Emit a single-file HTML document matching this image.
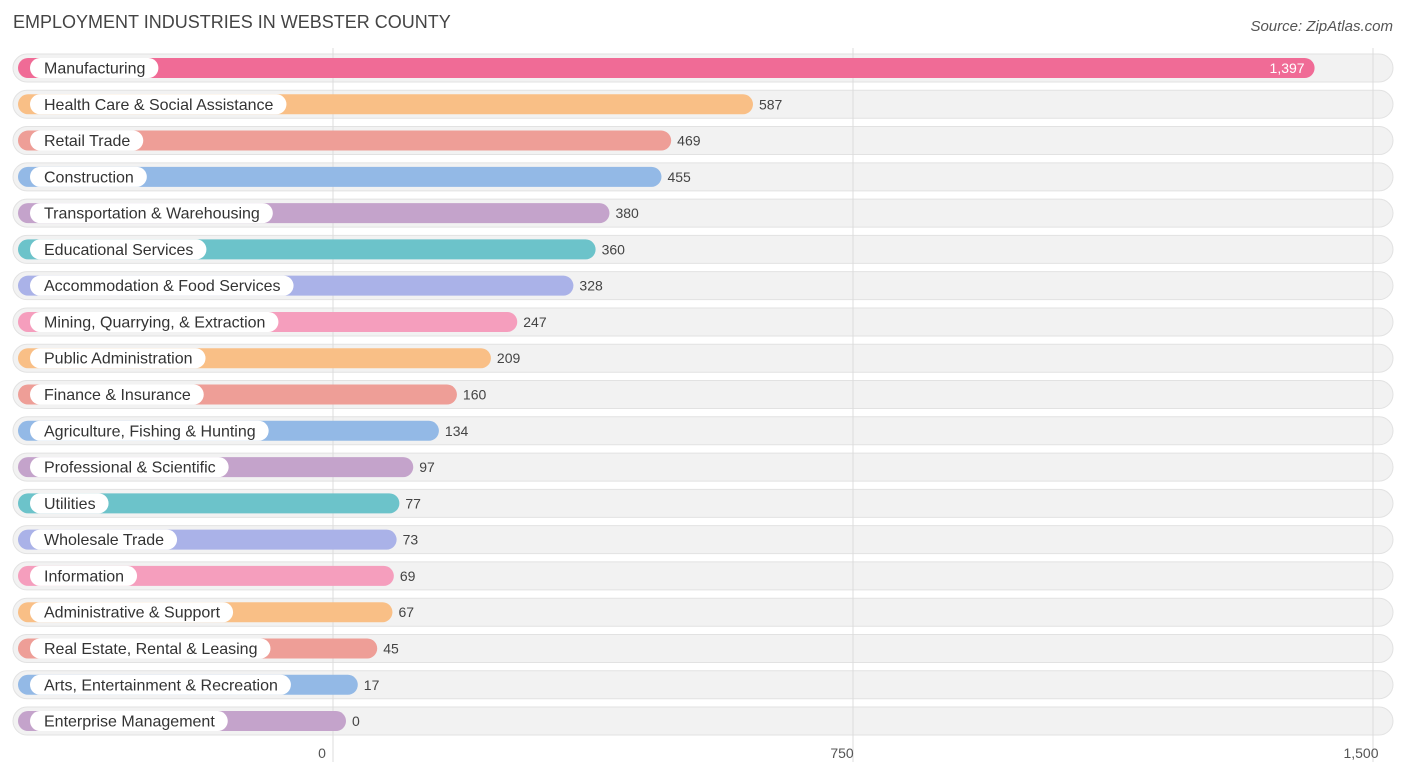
<!DOCTYPE html>
<html><head><meta charset="utf-8"><style>
body{margin:0;background:#fff;font-family:"Liberation Sans",sans-serif;}
svg{display:block}
</style></head><body>
<svg id="chart" width="1406" height="776" xmlns="http://www.w3.org/2000/svg">
<text x="13" y="28" font-size="18" fill="#444">EMPLOYMENT INDUSTRIES IN WEBSTER COUNTY</text>
<text x="1393" y="31" font-size="15" fill="#555" text-anchor="end" font-style="italic">Source: ZipAtlas.com</text>
<g id="rows"></g><g id="grid"></g><g id="bars"></g><g id="ticks"></g>
</svg>
<script>
const categories=["Manufacturing","Health Care & Social Assistance","Retail Trade","Construction","Transportation & Warehousing","Educational Services","Accommodation & Food Services","Mining, Quarrying, & Extraction","Public Administration","Finance & Insurance","Agriculture, Fishing & Hunting","Professional & Scientific","Utilities","Wholesale Trade","Information","Administrative & Support","Real Estate, Rental & Leasing","Arts, Entertainment & Recreation","Enterprise Management"];
const values=[1397,587,469,455,380,360,328,247,209,160,134,97,77,73,69,67,45,17,0];
const tickValues=[0,750,1500];
const tickLabels=["0","750","1,500"];
const colors=["#f9bf86","#ee9e97","#93b9e6","#c4a3cb","#6cc3ca","#aab2e8","#f59ebd"];
const NS="http://www.w3.org/2000/svg";
const x=v=>333+v*(520/750);
const y=i=>68+i*36.28;
function mk(tag,attrs,parent){const e=document.createElementNS(NS,tag);for(const k in attrs)e.setAttribute(k,attrs[k]);parent.appendChild(e);return e;}
const grid=document.getElementById('grid'),rows=document.getElementById('rows'),bars=document.getElementById('bars'),ticks=document.getElementById('ticks');
categories.forEach((c,i)=>{
 const cy=y(i);
 const bg=mk('rect',{x:13,y:cy-14,width:1380,height:28,rx:14,fill:'#f2f2f2',stroke:'#e2e2e2'},rows);
 
 
});
tickValues.forEach((t,i)=>{
 const l=mk('line',{x1:x(t),x2:x(t),y1:48,y2:762,stroke:'#dcdcdc','stroke-width':1},grid);
 
 
 const tx=mk('text',{x:x(t)+(i==2?-12:-11),y:758,'font-size':14,fill:'#555','text-anchor':'middle'},ticks);
 tx.textContent=tickLabels[i];
 
 
});
categories.forEach((c,i)=>{
 const cy=y(i);
 const end=x(values[i])+13;
 const col=i==0?"#f06b96":colors[(i-1)%colors.length];
 const b=mk('rect',{x:18,y:cy-10,width:end-18,height:20,rx:10,fill:col},bars);
 
 
 const p=mk('rect',{x:30,y:cy-10,width:100,height:20,rx:10,fill:'#fff'},bars);
 
 
 const t=mk('text',{x:44,y:cy+5.5,'font-size':16,fill:'#333'},bars);
 t.textContent=c;
 
 
 p.setAttribute('width',t.getComputedTextLength()+27);
 const inside=values[i]>1200;
 const v=mk('text',{x:inside?end-10:end+6,y:cy+5,'font-size':14,fill:inside?'#fff':'#444','text-anchor':inside?'end':'start'},bars);
 v.textContent=values[i].toLocaleString('en-US');
 
 
});
</script>
</body></html>
